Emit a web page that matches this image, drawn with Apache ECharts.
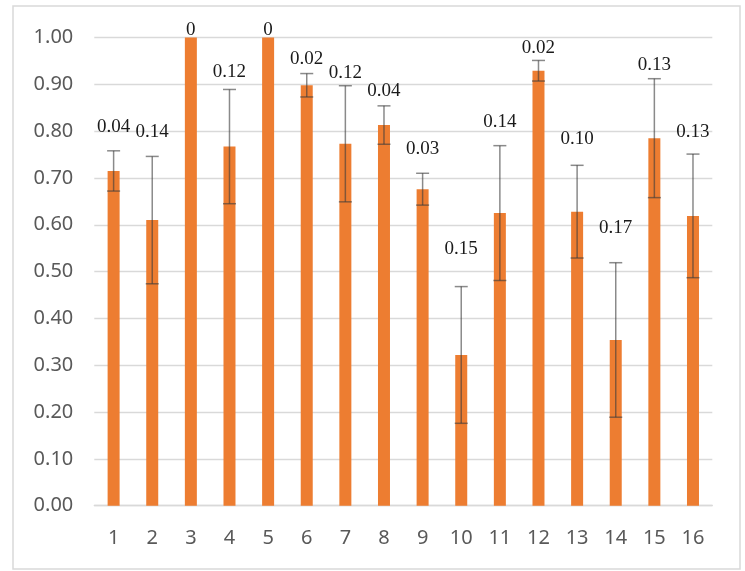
<!DOCTYPE html>
<html>
<head>
<meta charset="utf-8">
<script src="https://cdn.jsdelivr.net/npm/echarts@6/dist/echarts.min.js"></script>
<style>
html,body{margin:0;padding:0;background:#fff;}
#c{width:745px;height:571px;}
</style>
</head>
<body>
<div id="c"></div>
<script>
// ---- DATA ----
var categories = ['1','2','3','4','5','6','7','8','9','10','11','12','13','14','15','16'];
var means  = [0.715, 0.610, 1.000, 0.767, 1.000, 0.898, 0.773, 0.813, 0.676, 0.322, 0.625, 0.929, 0.628, 0.354, 0.785, 0.619];
var errors = [0.043, 0.136, 0.000, 0.122, 0.000, 0.025, 0.124, 0.041, 0.034, 0.146, 0.144, 0.022, 0.099, 0.165, 0.127, 0.132];
var errLabels = ['0.04','0.14','0','0.12','0','0.02','0.12','0.04','0.03','0.15','0.14','0.02','0.10','0.17','0.13','0.13'];
var yTicks = {min: 0, max: 1, interval: 0.1};

// ---- STYLE (pixel gap between each annotation and its error bar top) ----
var labelLift = [18, 18, 1, 11, 1, 9, 7, 9, 18, 32, 18, 6, 20, 29, 8, 16];

var chart = echarts.init(document.getElementById('c'), null, {renderer: 'canvas'});

var errData = means.map(function (m, i) { return [i, m, errors[i]]; });

var option = {
  backgroundColor: '#ffffff',
  animation: false,
  graphic: [{
    type: 'rect',
    shape: {x: 13, y: 6, width: 727, height: 563},
    style: {fill: 'none', stroke: '#d9d9d9', lineWidth: 1.5},
    silent: true, z: -1
  }],
  grid: {left: 94.3, right: 32.7, top: 37.5, bottom: 65.3, containLabel: false},
  xAxis: {
    type: 'category',
    data: categories,
    axisLine: {show: true, lineStyle: {color: '#d9d9d9', width: 1.3}},
    axisTick: {show: false},
    axisLabel: {color: '#595959', fontFamily: 'Noto Sans', fontSize: 20, margin: 23}
  },
  yAxis: {
    type: 'value',
    min: yTicks.min, max: yTicks.max, interval: yTicks.interval,
    axisLine: {show: false},
    axisTick: {show: false},
    splitLine: {lineStyle: {color: '#d9d9d9', width: 1.3}},
    axisLabel: {
      color: '#595959', fontFamily: 'Noto Sans', fontSize: 20, margin: 21,
      formatter: function (v) { return v.toFixed(2); }
    }
  },
  series: [
    {
      type: 'bar',
      data: means,
      barWidth: 12,
      itemStyle: {color: '#ED7D31'},
      z: 2
    },
    {
      type: 'custom',
      data: errData,
      z: 5,
      clip: false,
      renderItem: function (params, api) {
        var i = api.value(0), m = api.value(1), e = api.value(2);
        var top = api.coord([i, m + e]);
        var bot = api.coord([i, m - e]);
        var x = top[0];
        var half = 6.5;
        var lc = 'rgba(60,60,60,0.6)';
        var children = [];
        if (e > 0) {
          children.push({type: 'line', shape: {x1: x, y1: top[1], x2: x, y2: bot[1]}, style: {stroke: lc, lineWidth: 1.5}});
          children.push({type: 'line', shape: {x1: x - half, y1: top[1], x2: x + half, y2: top[1]}, style: {stroke: lc, lineWidth: 1.5}});
          children.push({type: 'line', shape: {x1: x - half, y1: bot[1], x2: x + half, y2: bot[1]}, style: {stroke: lc, lineWidth: 1.5}});
        }
        children.push({
          type: 'text',
          style: {
            x: x, y: top[1] - labelLift[params.dataIndex] - 6,
            text: errLabels[params.dataIndex],
            fill: '#1a1a1a',
            font: '19px "Liberation Serif", "Times New Roman", serif',
            textAlign: 'center', textVerticalAlign: 'middle'
          }
        });
        return {type: 'group', children: children};
      }
    }
  ]
};
chart.setOption(option);
</script>
</body>
</html>
